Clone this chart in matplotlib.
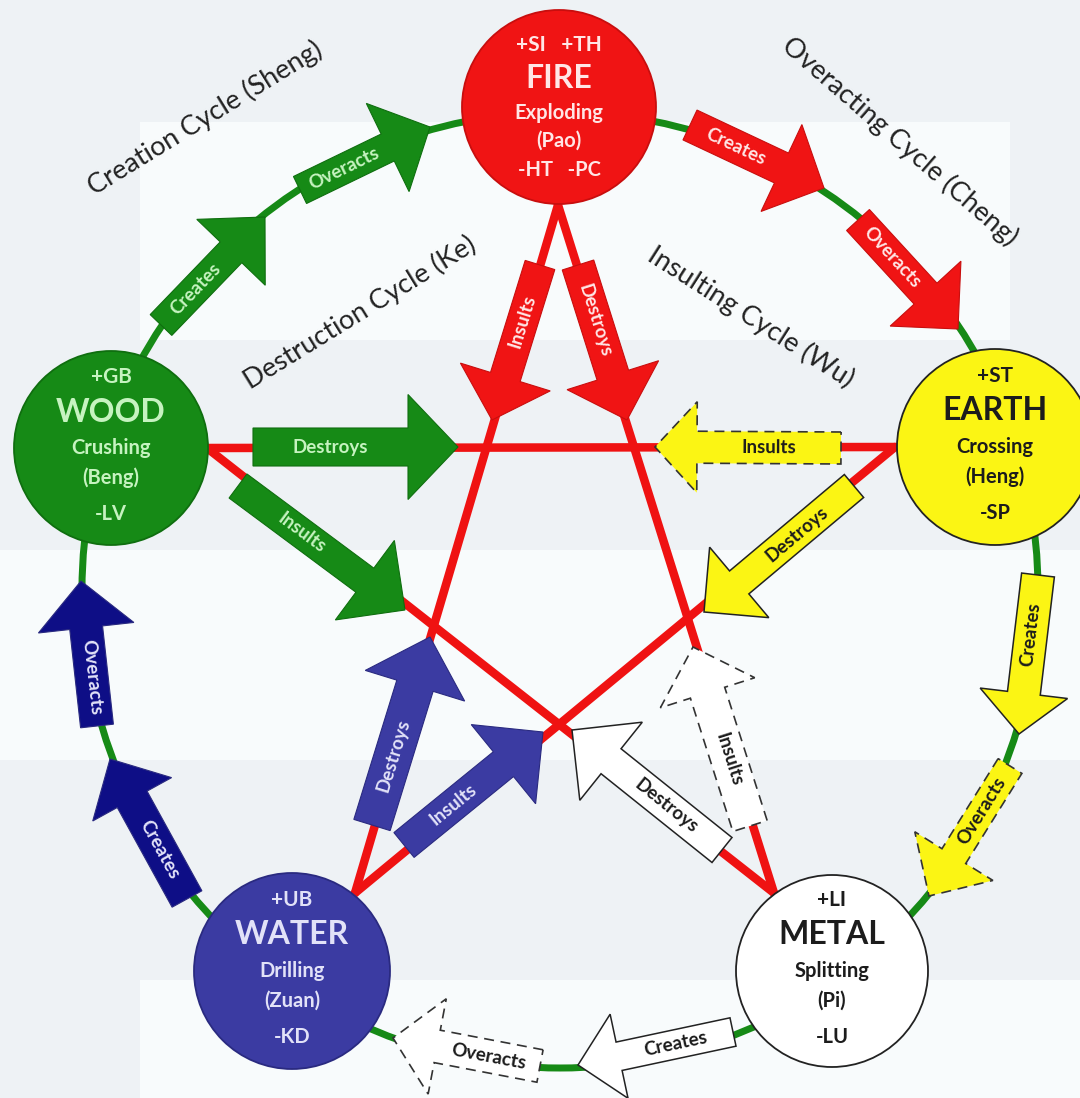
import matplotlib
matplotlib.use('Agg')
import matplotlib.pyplot as plt
import numpy as np
from matplotlib.patches import Polygon, Circle, Rectangle

# ---------------- data ----------------
elements = ['FIRE', 'EARTH', 'METAL', 'WATER', 'WOOD']
element_top = ['+SI   +TH', '+ST', '+LI', '+UB', '+GB']
element_action = ['Exploding', 'Crossing', 'Splitting', 'Drilling', 'Crushing']
element_pinyin = ['(Pao)', '(Heng)', '(Pi)', '(Zuan)', '(Beng)']
element_bottom = ['-HT   -PC', '-SP', '-LU', '-KD', '-LV']

cycle_titles = ['Creation Cycle (Sheng)', 'Destruction Cycle (Ke)',
                'Overacting Cycle (Cheng)', 'Insulting Cycle (Wu)']

# star (Ke) connections, by element
star_links = [('FIRE', 'WATER'), ('FIRE', 'METAL'), ('WOOD', 'EARTH'),
              ('WOOD', 'METAL'), ('EARTH', 'WATER')]

# labelled arrows: source element, label, dashed outline
arrow_source = ['WOOD', 'WOOD', 'FIRE', 'FIRE', 'EARTH', 'EARTH', 'METAL', 'METAL',
                'WATER', 'WATER',
                'WOOD', 'WOOD', 'FIRE', 'FIRE', 'EARTH', 'EARTH', 'WATER', 'WATER',
                'METAL', 'METAL']
arrow_label = ['Creates', 'Overacts', 'Creates', 'Overacts', 'Creates', 'Overacts',
               'Creates', 'Overacts', 'Creates', 'Overacts',
               'Destroys', 'Insults', 'Insults', 'Destroys', 'Insults', 'Destroys',
               'Destroys', 'Insults', 'Destroys', 'Insults']
arrow_dashed = [False, False, False, False, False, True, False, True, False, False,
                False, False, False, False, True, False, False, False, False, True]

# ---------------- layout (pixel space) ----------------
circle_center = {'FIRE': (559, 107), 'EARTH': (995, 447), 'METAL': (832, 971),
                 'WATER': (292, 971), 'WOOD': (111, 448)}
circle_radius = {'FIRE': 97, 'EARTH': 98, 'METAL': 96, 'WATER': 98, 'WOOD': 97}
star_vertex = {'FIRE': (558, 205), 'EARTH': (895, 447), 'METAL': (774, 893),
               'WATER': (355, 893), 'WOOD': (207, 448)}
ring_center = (560, 590)
ring_radius = 478

# base, tip, shaft width, head width, head length
arrow_geom = [
    ((161, 325), (265, 217), 30, 95, 49),
    ((300, 190), (430, 127), 30, 98, 47),
    ((690, 125), (824, 188), 33, 96, 47),
    ((858, 220), (958, 329), 31, 96, 48),
    ((1038, 575), (1019, 734), 33, 88, 41),
    ((1010, 766), (929, 896), 28, 92, 47),
    ((733, 1032), (578, 1065), 29, 86, 42),
    ((540, 1066), (393, 1038), 33, 97, 45),
    ((187, 899), (110, 759), 34, 90, 46),
    ((97, 726), (81, 581), 33, 96, 47),
    ((253, 447), (458, 447), 38, 105, 50),
    ((238, 486), (405, 610), 30, 99, 50),
    ((540, 265), (492, 420), 31, 94, 45),
    ((578, 265), (627, 420), 33, 96, 47),
    ((841, 448), (655, 447), 32, 91, 42),
    ((854, 486), (704, 612), 30, 92, 46),
    ((372, 825), (430, 637), 38, 104, 51),
    ((404, 845), (543, 732), 32, 102, 51),
    ((722, 850), (572, 730), 32, 100, 50),
    ((750, 826), (693, 647), 36, 99, 48),
]

title_pos = [((205, 118), 31.6), ((360, 313), 31.7), ((900, 141), -41.0), ((751, 317), -32.5)]

fill_color = {'FIRE': '#f01414', 'EARTH': '#fbf514', 'METAL': '#ffffff',
              'WATER': '#3b3ba2', 'WOOD': '#168a16'}
edge_color = {'FIRE': '#c80e0e', 'EARTH': '#222222', 'METAL': '#222222',
              'WATER': '#2a2a80', 'WOOD': '#0f6e0f'}
text_color = {'FIRE': '#ffe6e6', 'EARTH': '#1c1c1c', 'METAL': '#1c1c1c',
              'WATER': '#e2e2f8', 'WOOD': '#c6f3c0'}
ring_arrow_water = '#0e0e86'

FONT = 'Lato'
PX = 0.72  # px -> pt

fig = plt.figure(figsize=(10.8, 10.98), dpi=100)
fig.patch.set_facecolor('#eef2f5')
ax = fig.add_axes([0, 0, 1, 1])
ax.set_xlim(0, 1080)
ax.set_ylim(1098, 0)
ax.axis('off')

# soft background patches
for (x, y, w, h) in [(140, 122, 870, 218), (0, 550, 1080, 210), (140, 980, 940, 118)]:
    ax.add_patch(Rectangle((x, y), w, h, facecolor='#f8fbfc', edgecolor='none', zorder=0))

# green ring
ax.add_patch(Circle(ring_center, ring_radius, facecolor='none', edgecolor='#168a16',
                    lw=7 * PX, zorder=1))

# red star
for a, b in star_links:
    p, q = star_vertex[a], star_vertex[b]
    ax.plot([p[0], q[0]], [p[1], q[1]], color='#ef1212', lw=8.5 * PX,
            solid_capstyle='round', zorder=2)


def arrow_points(b, t, w, hw, hl):
    b = np.array(b, float)
    t = np.array(t, float)
    d = t - b
    u = d / np.hypot(*d)
    n = np.array([-u[1], u[0]])
    h = t - u * hl
    pts = [b + n * w / 2, h + n * w / 2, h + n * hw / 2, t,
           h - n * hw / 2, h - n * w / 2, b - n * w / 2]
    return np.array(pts), (b + h) / 2, u


for i, (src, lab, dsh) in enumerate(zip(arrow_source, arrow_label, arrow_dashed)):
    b, t, w, hw, hl = arrow_geom[i]
    pts, mid, u = arrow_points(b, t, w, hw, hl)
    fc = fill_color[src]
    if src == 'WATER' and i < 10:
        fc = ring_arrow_water
    if dsh:
        poly = Polygon(pts, closed=True, facecolor=fc, edgecolor='#333333',
                       lw=1.2, linestyle=(0, (6, 4)), joinstyle='miter', zorder=3)
    else:
        ec = edge_color[src]
        lw = 1.1 if src in ('METAL', 'EARTH') else 0.8
        poly = Polygon(pts, closed=True, facecolor=fc, edgecolor=ec, lw=lw,
                       joinstyle='miter', zorder=3)
    ax.add_patch(poly)
    ang = np.degrees(np.arctan2(-u[1], u[0]))
    if ang > 90:
        ang -= 180
    elif ang <= -90:
        ang += 180
    ax.text(mid[0], mid[1], lab, rotation=ang, rotation_mode='anchor',
            ha='center', va='center', fontsize=13.5, family=FONT,
            fontweight='bold', color=text_color[src], zorder=4)

# element circles
offs_default = [-71, -36, 0, 30, 66]
offs_fire = [-62, -29, 6, 34, 63]
for k, el in enumerate(elements):
    cx, cy = circle_center[el]
    r = circle_radius[el]
    ec = edge_color[el]
    ax.add_patch(Circle((cx, cy), r, facecolor=fill_color[el], edgecolor=ec,
                        lw=1.3, zorder=5))
    offs = offs_fire if el == 'FIRE' else offs_default
    tc = text_color[el]
    lines = [element_top[k], el, element_action[k], element_pinyin[k], element_bottom[k]]
    sizes = [15, 23, 14.5, 14.5, 14.5]
    weights = ['bold', 'bold', 'bold', 'bold', 'bold']
    for line, dy, fs, fw in zip(lines, offs, sizes, weights):
        ax.text(cx, cy + dy, line, ha='center', va='center', fontsize=fs,
                fontweight=fw, family=FONT, color=tc, zorder=6)

# cycle titles
for title, ((tx, ty), rot) in zip(cycle_titles, title_pos):
    ax.text(tx, ty, title, rotation=rot, rotation_mode='anchor', ha='center',
            va='center', fontsize=19.5, family=FONT, color='#222222', zorder=6)

fig.savefig('out.png', dpi=100, facecolor=fig.get_facecolor())
